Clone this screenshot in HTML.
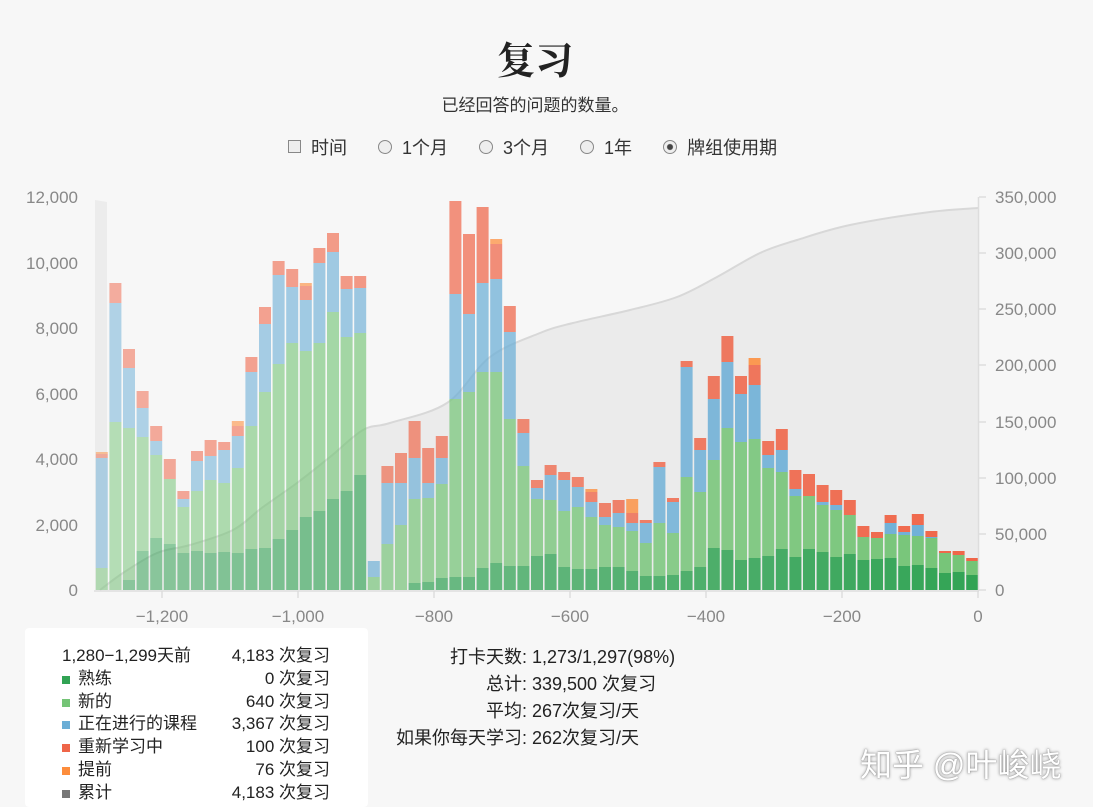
<!DOCTYPE html>
<html><head><meta charset="utf-8">
<style>
body{margin:0;width:1093px;height:807px;background:#f7f7f7;font-family:"Liberation Sans","Noto Sans CJK SC",sans-serif;overflow:hidden;position:relative;color:#222}
.t{position:absolute;white-space:nowrap}
</style></head><body>
<div class="t" style="left:0;width:1070px;text-align:center;top:30px;font-size:38px;font-weight:bold;font-family:'Liberation Serif','Noto Serif CJK SC',serif">复习</div>
<div class="t" style="left:0;width:1070px;text-align:center;top:91px;font-size:17px;color:#333">已经回答的问题的数量。</div>
<div class="t" style="left:288px;top:134px;font-size:18px;color:#333">
<span style="display:inline-block;width:11px;height:11px;border:1px solid #888;background:#eee;vertical-align:1px"></span>&nbsp; 时间
<span style="margin-left:26px;display:inline-block;width:12px;height:12px;border:1px solid #888;border-radius:50%;background:#eee;vertical-align:0"></span>&nbsp; 1个月
<span style="margin-left:26px;display:inline-block;width:12px;height:12px;border:1px solid #888;border-radius:50%;background:#eee;vertical-align:0"></span>&nbsp; 3个月
<span style="margin-left:26px;display:inline-block;width:12px;height:12px;border:1px solid #888;border-radius:50%;background:#eee;vertical-align:0"></span>&nbsp; 1年
<span style="margin-left:26px;display:inline-block;width:12px;height:12px;border:1px solid #888;border-radius:50%;background:radial-gradient(#444 30%,#eee 40%);vertical-align:0"></span>&nbsp; 牌组使用期
</div>
<svg id="c" width="1093" height="807" style="position:absolute;left:0;top:0" xmlns="http://www.w3.org/2000/svg">
<path d="M95,200 L107,202 L107,590 L95,590Z" fill="#ececec"/>
<path id="area" fill="#ebebeb"/>
<path id="line" fill="none" stroke="#d8d8d8" stroke-width="2"/>
<g id="bars"></g>
<g fill="#888" font-size="17" font-family="Liberation Sans,sans-serif">
<text x="78" y="596" text-anchor="end">0</text>
<text x="78" y="531" text-anchor="end">2,000</text>
<text x="78" y="465" text-anchor="end">4,000</text>
<text x="78" y="400" text-anchor="end">6,000</text>
<text x="78" y="334" text-anchor="end">8,000</text>
<text x="78" y="269" text-anchor="end">10,000</text>
<text x="78" y="203" text-anchor="end">12,000</text>
<text x="995" y="596">0</text>
<text x="995" y="540">50,000</text>
<text x="995" y="484">100,000</text>
<text x="995" y="428">150,000</text>
<text x="995" y="371">200,000</text>
<text x="995" y="315">250,000</text>
<text x="995" y="259">300,000</text>
<text x="995" y="203">350,000</text>
<text x="162" y="622" text-anchor="middle">−1,200</text>
<text x="298" y="622" text-anchor="middle">−1,000</text>
<text x="434" y="622" text-anchor="middle">−800</text>
<text x="570" y="622" text-anchor="middle">−600</text>
<text x="706" y="622" text-anchor="middle">−400</text>
<text x="842" y="622" text-anchor="middle">−200</text>
<text x="978" y="622" text-anchor="middle">0</text>
</g>
<g stroke="#ddd" stroke-width="1.5">
<line x1="94" y1="591" x2="979" y2="591"/>
<line x1="978.5" y1="197" x2="978.5" y2="591"/>
<line x1="162" y1="591" x2="162" y2="598"/><line x1="298" y1="591" x2="298" y2="598"/><line x1="434" y1="591" x2="434" y2="598"/><line x1="570" y1="591" x2="570" y2="598"/><line x1="706" y1="591" x2="706" y2="598"/><line x1="842" y1="591" x2="842" y2="598"/><line x1="978" y1="591" x2="978" y2="598"/>
<line x1="979" y1="590" x2="986" y2="590"/><line x1="979" y1="534" x2="986" y2="534"/><line x1="979" y1="478" x2="986" y2="478"/><line x1="979" y1="422" x2="986" y2="422"/><line x1="979" y1="365" x2="986" y2="365"/><line x1="979" y1="309" x2="986" y2="309"/><line x1="979" y1="253" x2="986" y2="253"/><line x1="979" y1="197" x2="986" y2="197"/>
</g>
</svg>
<div style="position:absolute;left:25px;top:628px;width:343px;height:179px;background:#fff;border-radius:4px"></div>
<div class="t" style="left:62px;top:645px;font-size:17px;line-height:22.8px;color:#222">
<div>1,280−1,299天前</div>
<div><span style="display:inline-block;width:8px;height:8px;background:#31a354;margin-right:8px"></span>熟练</div>
<div><span style="display:inline-block;width:8px;height:8px;background:#74c476;margin-right:8px"></span>新的</div>
<div><span style="display:inline-block;width:8px;height:8px;background:#6baed6;margin-right:8px"></span>正在进行的课程</div>
<div><span style="display:inline-block;width:8px;height:8px;background:#ef6548;margin-right:8px"></span>重新学习中</div>
<div><span style="display:inline-block;width:8px;height:8px;background:#fd8d3c;margin-right:8px"></span>提前</div>
<div><span style="display:inline-block;width:8px;height:8px;background:#777;margin-right:8px"></span>累计</div>
</div>
<div class="t" style="left:200px;width:130px;text-align:right;top:645px;font-size:17px;line-height:22.8px;color:#222">
<div>4,183 次复习</div><div>0 次复习</div><div>640 次复习</div><div>3,367 次复习</div><div>100 次复习</div><div>76 次复习</div><div>4,183 次复习</div>
</div>
<div class="t" style="left:300px;width:227px;text-align:right;top:644px;font-size:18px;line-height:27px">
<div>打卡天数:</div><div>总计:</div><div>平均:</div><div>如果你每天学习:</div></div>
<div class="t" style="left:532px;top:644px;font-size:18px;line-height:27px">
<div>1,273/1,297(98%)</div><div>339,500 次复习</div><div>267次复习/天</div><div>262次复习/天</div></div>
<div class="t" style="left:860px;top:740px;font-size:32px;color:#fff;text-shadow:0 0 3px #888,0 0 1px #666">知乎 @叶峻峣</div>
<script>
var P=[[100,590],[123,573],[157,553],[190,545],[233,530],[263,507],[297,483],[330,457],[363,430],[390,423],[447,403],[490,357],[540,333],[573,323],[630,310],[677,297],[717,277],[760,253],[797,240],[850,225],[930,212],[978,208]];
var p="M"+P[0][0]+","+P[0][1];
for(var i=0;i<P.length-1;i++){var a=P[Math.max(i-1,0)],b=P[i],c=P[i+1],e=P[Math.min(i+2,P.length-1)];
p+=" C"+(b[0]+(c[0]-a[0])/6).toFixed(1)+","+(b[1]+(c[1]-a[1])/6).toFixed(1)+" "+(c[0]-(e[0]-b[0])/6).toFixed(1)+","+(c[1]-(e[1]-b[1])/6).toFixed(1)+" "+c[0]+","+c[1];}
document.getElementById("line").setAttribute("d",p);
document.getElementById("area").setAttribute("d",p+" L978,590 L100,590Z");
var d=[[0,568,458,454,452],[0,422,303,283,0],[580,428,368,349,0],[551,437,408,391,0],[538,455,441,426,0],[544,479,0,459,0],[553,507,499,491,0],[551,491,461,451,0],[553,480,456,440,0],[552,483,450,442,0],[553,468,436,426,421],[549,426,372,357,0],[548,392,324,307,0],[539,364,275,261,0],[530,343,287,269,0],[517,351,300,286,283],[511,343,263,248,0],[499,312,252,233,0],[491,337,289,276,0],[475,333,288,276,0],[0,577,561,0,0],[0,544,483,466,0],[0,525,483,453,0],[583,499,458,421,0],[582,498,483,448,0],[578,484,458,436,0],[577,399,294,201,0],[577,392,314,234,0],[568,372,283,207,0],[563,372,279,244,239],[566,419,332,306,0],[566,466,433,419,0],[556,499,488,480,0],[554,500,475,465,0],[567,511,480,472,0],[569,507,487,477,0],[569,517,502,492,489],[567,525,517,503,0],[567,527,513,500,0],[571,531,523,513,499],[576,543,523,520,0],[576,523,467,462,0],[575,533,502,498,0],[571,477,367,361,0],[567,492,450,438,0],[548,460,399,376,0],[550,428,362,336,0],[560,442,394,376,0],[558,439,385,365,358],[556,468,455,441,0],[549,472,450,429,0],[557,496,489,470,0],[549,496,0,474,0],[552,505,502,485,0],[557,510,505,490,0],[554,515,0,500,0],[560,537,0,526,0],[559,538,0,532,0],[558,534,523,515,0],[566,535,532,526,0],[565,536,525,514,0],[568,538,537,531,0],[573,553,0,551,0],[572,555,0,551,0],[575,561,0,558,0]];
var col=["#31a354","#74c476","#6baed6","#ef6548","#fd8d3c"];
var s="";
for(var i=0;i<d.length;i++){var x=95+13.6*i+0.8,prev=590,op=0.5+0.5*i/64;
for(var k=0;k<5;k++){var t=d[i][k];if(!t)continue;if(t<prev){s+='<rect x="'+x.toFixed(1)+'" y="'+t+'" width="12" height="'+(prev-t)+'" fill="'+col[k]+'" fill-opacity="'+op.toFixed(2)+'"/>';prev=t;}}}
document.getElementById("bars").innerHTML=s;
</script>
</body></html>
